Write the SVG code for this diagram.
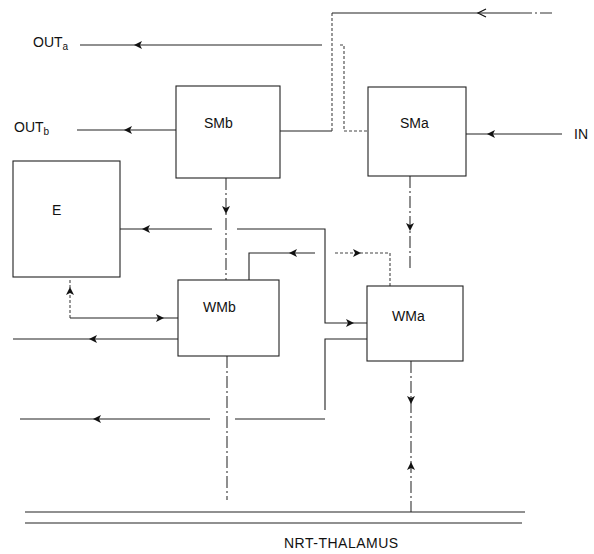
<svg xmlns="http://www.w3.org/2000/svg" xmlns:xlink="http://www.w3.org/1999/xlink" width="594" height="554" viewBox="0 0 594 554">
<style>
.box{fill:#fff;stroke:#222;stroke-width:1.1}
.ln{fill:none;stroke:#222;stroke-width:1.1}
.dsh{fill:none;stroke:#333;stroke-width:1.1;stroke-dasharray:12 3 2 3}
.dot{fill:none;stroke:#444;stroke-width:1.1;stroke-dasharray:3 2}
.lbl{font-family:"Liberation Sans",Arial,sans-serif;font-size:14px;fill:#111}
.sub{font-family:"Liberation Sans",Arial,sans-serif;font-size:10px;fill:#111}
</style>
<defs>
<path id="ah" d="M0,0 L8,-4 L6,0 L8,4 Z" fill="#111"/>
<path id="oh" d="M8,-4 L0,0 L8,4" fill="none" stroke="#111" stroke-width="1.2"/>
</defs>
<rect width="594" height="554" fill="#fff"/>
<g id="connectors">
<path class="ln" d="M80,45 H322"/>
<path class="dot" d="M340,45 H344 V131 H368"/>
<path class="ln" d="M280,131 H332"/>
<path class="dot" d="M332,131 V13"/>
<path class="ln" d="M332,13 H520"/>
<path class="dsh" d="M520,13 H555"/>
<path class="ln" d="M77,130 H176"/>
<path class="ln" d="M466,134 H562"/>
<path class="dsh" d="M226,178 V280"/>
<path class="ln" d="M120,229 H212"/>
<path class="ln" d="M237,229 H325 V323 H367"/>
<path class="ln" d="M249,280 V253 H315"/>
<path class="dot" d="M335,253 H390 V286"/>
<path class="dsh" d="M410,176 V270"/>
<path class="dot" d="M70,280 V318"/>
<path class="ln" d="M70,318 H178"/>
<path class="ln" d="M178,339 H13"/>
<path class="dsh" d="M227,356 V500"/>
<path class="ln" d="M367,339 H325 V410"/>
<path class="ln" d="M325,419 H235"/>
<path class="ln" d="M210,419 H20"/>
<path class="dsh" d="M411,361 V512"/>
<path class="ln" d="M25,512 H525"/>
<path class="ln" d="M25,523 H522"/>
<use xlink:href="#ah" transform="translate(134,45)"/>
<use xlink:href="#oh" transform="translate(478,13)"/>
<use xlink:href="#ah" transform="translate(124,130)"/>
<use xlink:href="#ah" transform="translate(487,134)"/>
<use xlink:href="#ah" transform="translate(226,214) rotate(-90)"/>
<use xlink:href="#ah" transform="translate(142,229)"/>
<use xlink:href="#ah" transform="translate(354,323) rotate(180)"/>
<use xlink:href="#ah" transform="translate(289,253)"/>
<use xlink:href="#ah" transform="translate(361,253) rotate(180)"/>
<use xlink:href="#ah" transform="translate(410,231) rotate(-90)"/>
<use xlink:href="#ah" transform="translate(70,287) rotate(90)"/>
<use xlink:href="#ah" transform="translate(164,318) rotate(180)"/>
<use xlink:href="#ah" transform="translate(89,339)"/>
<use xlink:href="#ah" transform="translate(93,419)"/>
<use xlink:href="#ah" transform="translate(411,404) rotate(-90)"/>
<use xlink:href="#ah" transform="translate(411,462) rotate(90)"/>
</g>
<g id="SMb"><rect class="box" x="176" y="86" width="104" height="92"/><text class="lbl" x="204" y="128">SMb</text></g>
<g id="SMa"><rect class="box" x="368" y="87" width="98" height="89"/><text class="lbl" x="400" y="128">SMa</text></g>
<g id="E"><rect class="box" x="13" y="161" width="107" height="116"/><text class="lbl" x="52" y="215">E</text></g>
<g id="WMb"><rect class="box" x="178" y="280" width="101" height="76"/><text class="lbl" x="203" y="312">WMb</text></g>
<g id="WMa"><rect class="box" x="367" y="286" width="96" height="75"/><text class="lbl" x="392" y="321">WMa</text></g>
<g id="OUTa"><text class="lbl" x="33" y="47">OUT<tspan class="sub" dy="3">a</tspan></text></g>
<g id="OUTb"><text class="lbl" x="14" y="132">OUT<tspan class="sub" dy="3">b</tspan></text></g>
<g id="IN"><text class="lbl" x="574" y="139">IN</text></g>
<g id="NRT"><text class="lbl" x="284" y="548" style="font-size:14px;letter-spacing:0.5px">NRT-THALAMUS</text></g>
</svg>
